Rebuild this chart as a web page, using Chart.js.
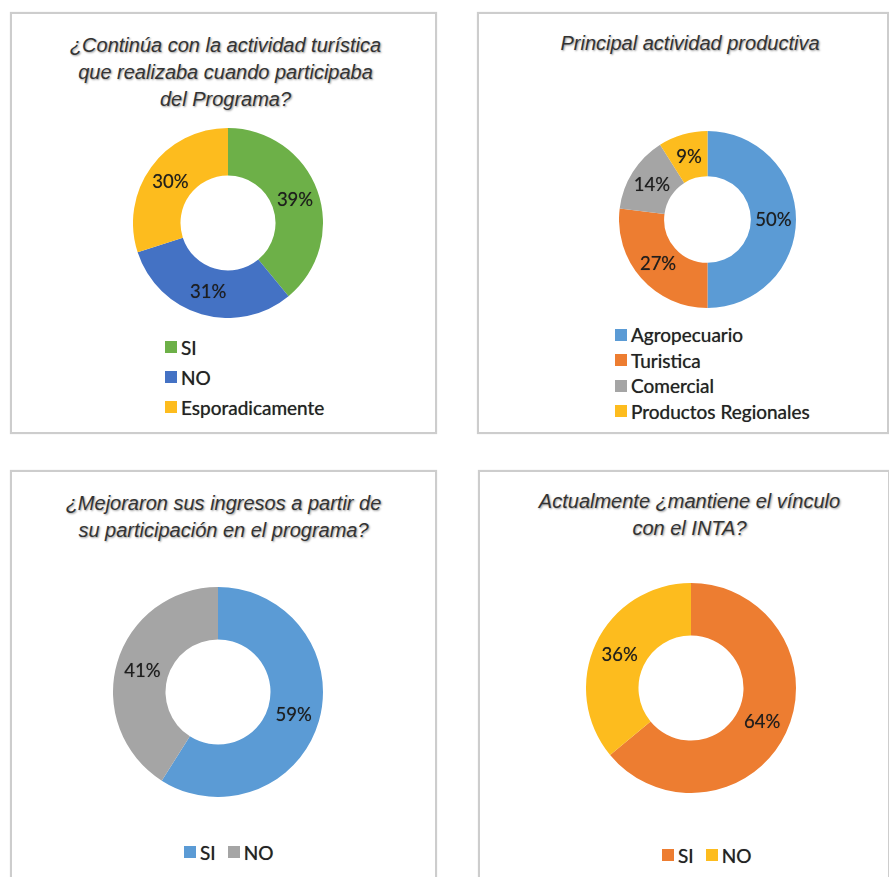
<!DOCTYPE html>
<html>
<head>
<meta charset="utf-8">
<script src="https://cdn.jsdelivr.net/npm/chart.js@4.4.1/dist/chart.umd.min.js"></script>
<style>
  html, body { margin:0; padding:0; background:#fff; width:889px; height:877px; overflow:hidden; position:relative; }
  .panel { position:absolute; border:2px solid #cdcdcd; box-sizing:border-box; background:#fff; box-shadow:0 0 1px rgba(0,0,0,0.15); }
  .title { position:absolute; width:420px; text-align:center; white-space:nowrap;
           font-family:"Liberation Sans", Arial, sans-serif; font-style:italic; font-size:20px; line-height:27px;
           color:#333; text-shadow:1px 1px 2px rgba(0,0,0,0.4); }
  .donut { position:absolute; }
  .legend { position:absolute; font-family:Lato, "Noto Sans", sans-serif; font-size:19px; color:#222; white-space:nowrap;
            text-shadow:0 0 0.7px rgba(0,0,0,0.6); }
  .legend .item { display:flex; align-items:center; }
  .legend.h { display:flex; align-items:center; }
  .legend .box { display:inline-block; width:12px; height:12px; margin-right:4px; flex:none; }
</style>
</head>
<body>
<script>
// ---- data ----
const q1Title = ['¿Continúa con la actividad turística', 'que realizaba cuando participaba', 'del Programa?'];
const q1Labels = ['SI', 'NO', 'Esporadicamente'];
const q1Values = [39, 31, 30];

const q2Title = ['Principal actividad productiva'];
const q2Labels = ['Agropecuario', 'Turistica', 'Comercial', 'Productos Regionales'];
const q2Values = [50, 27, 14, 9];

const q3Title = ['¿Mejoraron sus ingresos a partir de', 'su participación en el programa?'];
const q3Labels = ['SI', 'NO'];
const q3Values = [59, 41];

const q4Title = ['Actualmente ¿mantiene el vínculo', 'con el INTA?'];
const q4Labels = ['SI', 'NO'];
const q4Values = [64, 36];

// ---- styles ----
const q1Colors = ['#6DB048', '#4472C4', '#FDBC1E'];
const q2Colors = ['#5B9BD5', '#ED7D31', '#A5A5A5', '#FDBC1E'];
const q3Colors = ['#5B9BD5', '#A5A5A5'];
const q4Colors = ['#ED7D31', '#FDBC1E'];

// ---- layout ----
function addDiv(cls, css) {
  const d = document.createElement('div');
  d.className = cls;
  Object.assign(d.style, css);
  document.body.appendChild(d);
  return d;
}
addDiv('panel', {left:'10px', top:'12px', width:'427px', height:'422px'});
addDiv('panel', {left:'477px', top:'12px', width:'412px', height:'422px'});
addDiv('panel', {left:'10px', top:'470px', width:'427px', height:'440px'});
addDiv('panel', {left:'478px', top:'470px', width:'412px', height:'440px'});

function addTitle(lines, cx, top) {
  const t = addDiv('title', {left:(cx - 210) + 'px', top: top + 'px'});
  t.innerHTML = lines.map(l => '<div>' + l + '</div>').join('');
}
addTitle(q1Title, 225.5, 32);
addTitle(q2Title, 690, 30);
addTitle(q3Title, 223.5, 490);
addTitle(q4Title, 689.5, 488);

const pctLabels = {
  id: 'pctLabels',
  afterDatasetsDraw(chart) {
    const ctx = chart.ctx;
    const ds = chart.data.datasets[0];
    const meta = chart.getDatasetMeta(0);
    ctx.save();
    ctx.font = '18.5px Lato, "Noto Sans", sans-serif';
    ctx.fillStyle = '#1e1e1e';
    ctx.textAlign = 'center';
    ctx.textBaseline = 'middle';
    ctx.shadowColor = 'rgba(0,0,0,0.5)';
    ctx.shadowBlur = 0.8;
    meta.data.forEach((arc, i) => {
      const p = arc.tooltipPosition();
      ctx.fillText(ds.data[i] + '%', p.x, p.y + 1);
    });
    ctx.restore();
  }
};

function makeDonut(labels, values, colors, cx, cy, R, cutout) {
  const wrap = addDiv('donut', {left:(cx - R) + 'px', top:(cy - R) + 'px', width:(2*R) + 'px', height:(2*R) + 'px'});
  const cv = document.createElement('canvas');
  wrap.appendChild(cv);
  return new Chart(cv, {
    type: 'doughnut',
    data: { labels: labels, datasets: [{ data: values, backgroundColor: colors, borderWidth: 0, hoverOffset: 0 }] },
    options: {
      responsive: true, maintainAspectRatio: false, animation: false,
      cutout: cutout, layout: { padding: 0 },
      plugins: { legend: { display: false }, tooltip: { enabled: false }, title: { display: false } },
      events: []
    },
    plugins: [pctLabels]
  });
}

function htmlLegend(chart, left, top, itemH, horizontal, gap) {
  const items = Chart.overrides.doughnut.plugins.legend.labels.generateLabels(chart);
  const lg = addDiv('legend' + (horizontal ? ' h' : ''), {left: left + 'px', top: top + 'px', height: horizontal ? itemH + 'px' : 'auto'});
  items.forEach((it, i) => {
    const d = document.createElement('div');
    d.className = 'item';
    d.style.height = itemH + 'px';
    if (horizontal && i > 0) d.style.marginLeft = gap + 'px';
    const b = document.createElement('span');
    b.className = 'box';
    b.style.background = it.fillStyle;
    const s = document.createElement('span');
    s.textContent = it.text;
    d.appendChild(b); d.appendChild(s);
    lg.appendChild(d);
  });
}

const c1 = makeDonut(q1Labels, q1Values, q1Colors, 228, 223, 95, '50%');
const c2 = makeDonut(q2Labels, q2Values, q2Colors, 707, 219, 88.5, '49%');
const c3 = makeDonut(q3Labels, q3Values, q3Colors, 218, 692, 105, '50%');
const c4 = makeDonut(q4Labels, q4Values, q4Colors, 691, 687.5, 105, '50%');

htmlLegend(c1, 165, 332, 30, false, 0);
htmlLegend(c2, 615, 322, 25.5, false, 0);
htmlLegend(c3, 184, 838, 28, true, 12);
htmlLegend(c4, 662, 841, 28, true, 12);
</script>
</body>
</html>
